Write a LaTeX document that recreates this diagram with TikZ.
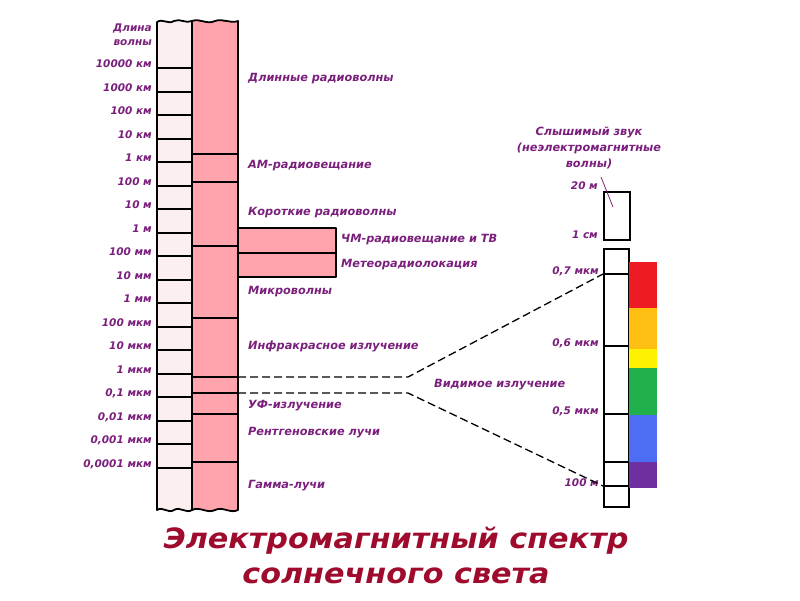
\documentclass[tikz,border=0pt]{standalone}
\usepackage{fontspec}
\setmainfont{DejaVu Sans}
\usetikzlibrary{calc}
\definecolor{labc}{HTML}{7A1F7C}
\definecolor{titc}{HTML}{9E0B2C}
\definecolor{lightpink}{HTML}{FCEFF0}
\definecolor{pinkc}{HTML}{FFA3AC}
\definecolor{sred}{HTML}{ED1C24}
\definecolor{sorange}{HTML}{FFBE12}
\definecolor{syellow}{HTML}{FFF200}
\definecolor{sgreen}{HTML}{22B04C}
\definecolor{sblue}{HTML}{4D6DF3}
\definecolor{spurple}{HTML}{6F2FA0}
\tikzset{
  lab/.style={text=labc, font=\fontsize{10.5}{12}\selectfont\bfseries\itshape, inner sep=0pt},
  blab/.style={lab, font=\fontsize{11.3}{13}\selectfont\bfseries\itshape},
  labR/.style={lab, anchor=east},
  labL/.style={blab, anchor=west},
  tick/.style={line width=1.8pt},
  col/.style={draw=black, line width=1.8pt, line join=round},
  dashline/.style={line width=1.3pt, dash pattern=on 8pt off 4pt},
  ttl/.style={text=titc, font=\fontsize{28}{30}\selectfont\bfseries\itshape, inner sep=0pt, anchor=base}
}
\begin{document}
\begin{tikzpicture}[x=1pt,y=-1pt]
\useasboundingbox (0,0) rectangle (800,600);
% left columns
\path[col, fill=lightpink] (157,510) -- (157,22) .. controls (163,18) and (168,25) .. (174,21) .. controls (180,18) and (186,24) .. (192,21) -- (192,510) .. controls (186,514) and (180,506) .. (174,510) .. controls (168,514) and (163,506) .. (157,510) -- cycle;
\path[col, fill=pinkc] (192,510) -- (192,21) .. controls (200,18) and (207,25) .. (215,21) .. controls (223,18) and (230,24) .. (238,21) -- (238,510) .. controls (230,514) and (223,506) .. (215,510) .. controls (207,514) and (200,506) .. (192,510) -- cycle;
% side boxes
\path[col, fill=pinkc] (238,228) rectangle (336,253);
\path[col, fill=pinkc] (238,253) rectangle (336,277);
% left ticks and labels
\node[labR, align=right] (len) at (152,35) {Длина\\[2pt]волны};
\foreach \i/\y/\t in {0/68/10000 км,1/92/1000 км,2/115/100 км,3/139/10 км,4/162/1 км,5/186/100 м,6/209/10 м,7/233/1 м,8/256/100 мм,9/280/10 мм,10/303/1 мм,11/327/100 мкм,12/350/10 мкм,13/374/1 мкм,14/397/{0,1 мкм},15/421/{0,01 мкм},16/444/{0,001 мкм},17/468/{0,0001 мкм}}{
  \coordinate (ta\i) at (157,\y);
  \coordinate (tb\i) at (192,\y);
  \draw[tick] (ta\i) -- (tb\i);
  \node[labR] (wl\i) at ($(ta\i)+(-5,-4)$) {\t};
}
% right column divisions
\foreach \y [count=\k] in {154,182,246,318,377,393,414,462}{
  \coordinate (ra\k) at (192,\y);
  \coordinate (rb\k) at (238,\y);
  \draw[tick] (ra\k) -- (rb\k);
}
% band labels
\node[labL] (n1) at (248,79) {Длинные радиоволны};
\node[labL] (n2) at (248,166) {АМ-радиовещание};
\node[labL] (n3) at (248,213) {Короткие радиоволны};
\node[labL] (n4) at (341,240) {ЧМ-радиовещание и ТВ};
\node[labL] (n5) at (341,265) {Метеорадиолокация};
\node[labL] (n6) at (248,292) {Микроволны};
\node[labL] (n7) at (248,346) {Инфракрасное излучение};
\node[labL] (n8) at (434,385) {Видимое излучение};
\node[labL] (n9) at (248,406) {УФ-излучение};
\node[labL] (n10) at (248,433) {Рентгеновские лучи};
\node[labL] (n11) at (248,486) {Гамма-лучи};
% sound box
\node[draw=black, line width=1.8pt, minimum width=26pt, minimum height=48pt, inner sep=0pt, anchor=north west] (sound) at (603,191) {};
\node[labR] (s20) at (598,186) {20 м};
\node[labR] (s1) at (598,235) {1 см};
\node[blab, align=center] (stitle) at (589,148) {Слышимый звук\\[3pt](неэлектромагнитные\\[3pt]волны)};
\coordinate (pa) at (601,177);
\coordinate (pb) at (613,207);
\draw[labc, line width=0.8pt] (pa) -- (pb);
% visible column
\node[draw=black, line width=1.8pt, fill=white, minimum width=25pt, minimum height=258pt, inner sep=0pt, anchor=north west] (vis) at (603,248) {};
\foreach \y/\t/\k in {274/{0,7 мкм}/1,346/{0,6 мкм}/2,414/{0,5 мкм}/3,486/100 м/4}{
  \coordinate (va\k) at (603,\y);
  \coordinate (vb\k) at (628,\y);
  \draw[tick] (va\k) -- (vb\k);
  \node[labR] (vl\k) at ($(va\k)+(-4,-3)$) {\t};
}
\coordinate (va5) at (603,462);
\coordinate (vb5) at (628,462);
\draw[tick] (va5) -- (vb5);
% colour bars
\fill[sred] (629,262) rectangle (657,308);
\fill[sorange] (629,308) rectangle (657,349);
\fill[syellow] (629,349) rectangle (657,368);
\fill[sgreen] (629,368) rectangle (657,415);
\fill[sblue] (629,415) rectangle (657,462);
\fill[spurple] (629,462) rectangle (657,488);
% dashed connectors
\coordinate (k1) at (408,377);
\coordinate (k2) at (408,393);
\draw[dashline] (rb5) -- (k1) -- (va1);
\draw[dashline] (rb6) -- (k2) -- (va4);
% title
\node[ttl, xscale=1.08] (t1) at (396,548) {Электромагнитный спектр};
\node[ttl, xscale=1.08] (t2) at (396,583) {солнечного света};
\end{tikzpicture}
\end{document}
